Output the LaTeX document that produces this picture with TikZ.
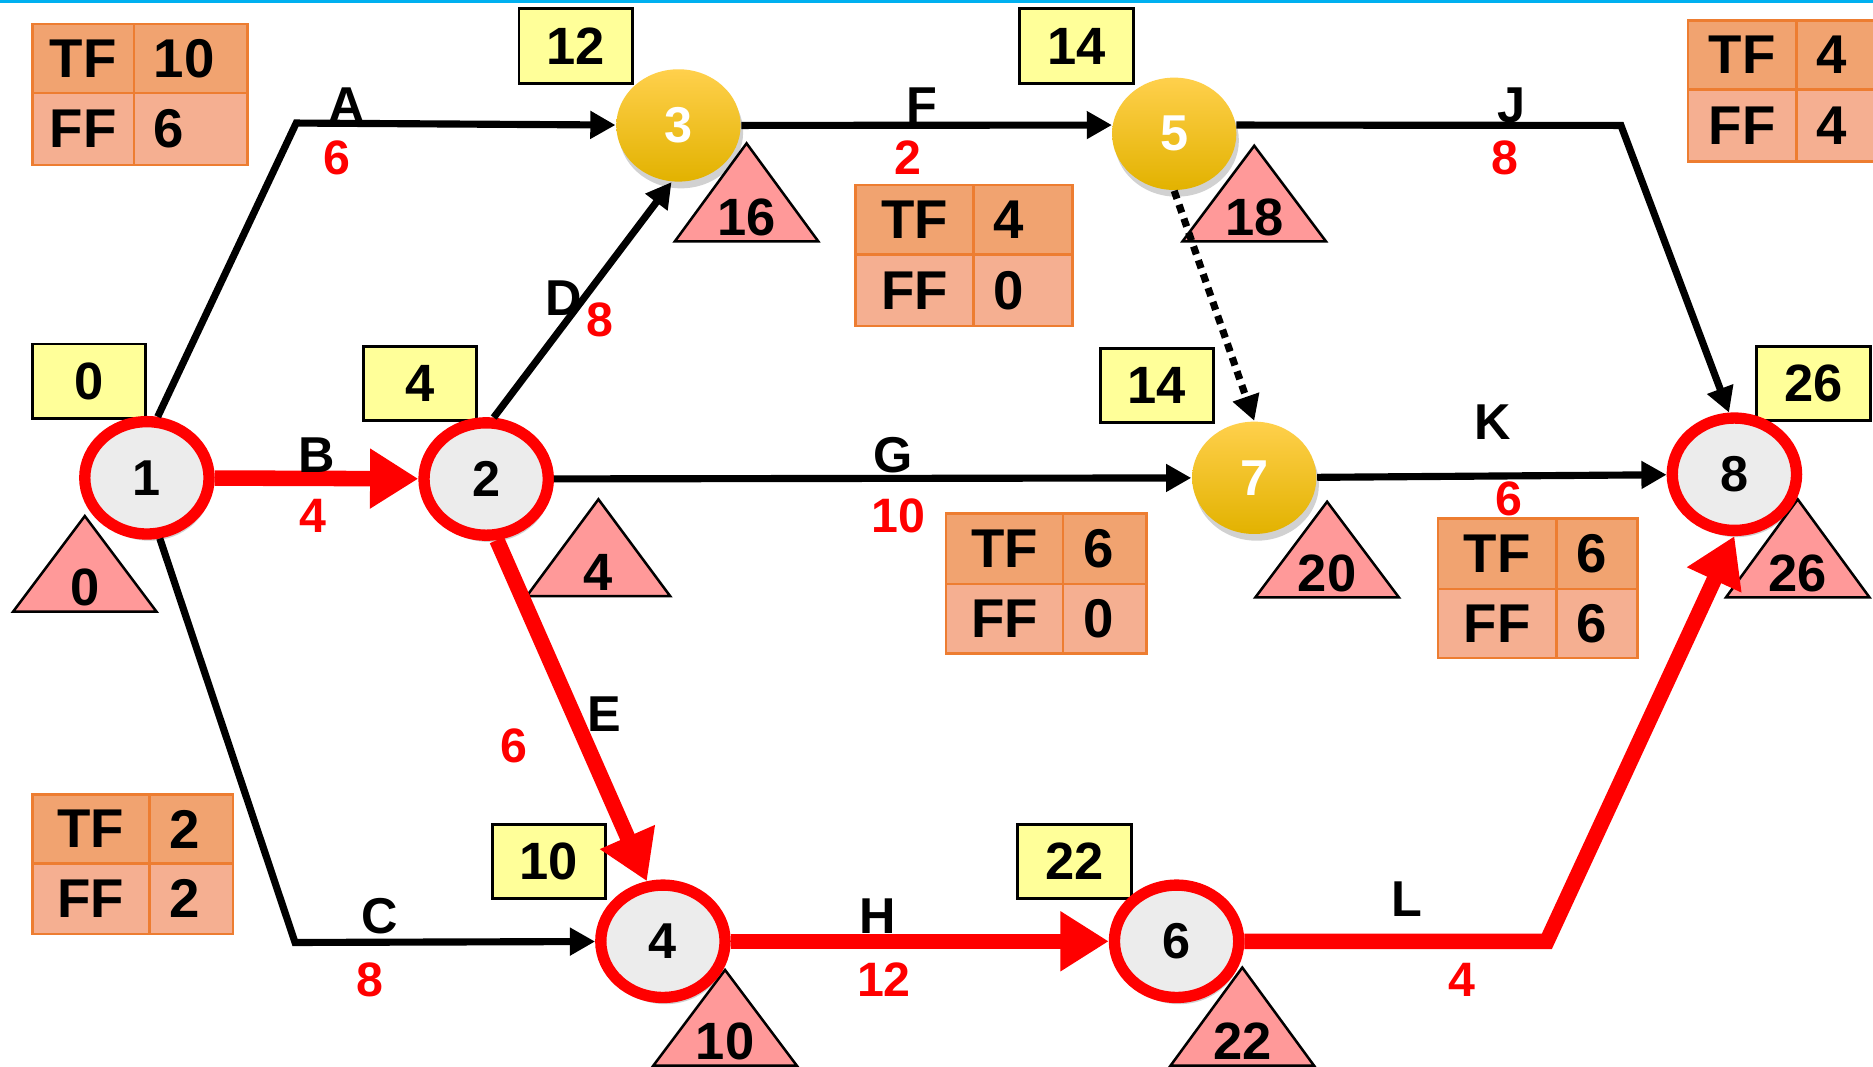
\documentclass[tikz,border=0pt]{standalone}
\usepackage{fontspec}
\setmainfont{Liberation Sans}
\usetikzlibrary{arrows.meta,shapes.geometric,shadows}

\definecolor{critred}{HTML}{FF0000}
\definecolor{esyellow}{HTML}{FFFF99}
\definecolor{lfpink}{HTML}{FF9999}
\definecolor{slacktop}{HTML}{F1A370}
\definecolor{slackbot}{HTML}{F5AF91}
\definecolor{slackline}{HTML}{ED7D31}
\definecolor{goldA}{HTML}{FFD04C}
\definecolor{goldB}{HTML}{FFC000}
\definecolor{goldC}{HTML}{E2B200}
\definecolor{ringfill}{HTML}{ECECEC}
\definecolor{topline}{HTML}{00B0F0}

% float-slack table: name, x0, y0, x-split, y-split, x1, y1, TF value, FF value
\newcommand\slacktab[9]{%
  \fill[slacktop] (#2,#3) rectangle (#6,#5);
  \fill[slackbot] (#2,#5) rectangle (#6,#7);
  \draw[slackline, line width=0.6pt] (#2,#3) rectangle (#6,#7) (#4,#3) -- (#4,#7) (#2,#5) -- (#6,#5);
  \node[tabtxt] (#1tfk) at ({(#2+#4)/2},{(#3+#5)/2}) {TF};
  \node[tabtxt] (#1ffk) at ({(#2+#4)/2},{(#5+#7)/2}) {FF};
  \node[tabtxt, anchor=west] (#1tfv) at (#4+16,{(#3+#5)/2}) {#8};
  \node[tabtxt, anchor=west] (#1ffv) at (#4+16,{(#5+#7)/2}) {#9};}

% latest-finish triangle: name, apex x, apex y, base y, value
\newcommand\lftri[5]{%
  \filldraw[lftri] (#2-60,#4) -- (#2,#3) -- (#2+60,#4) -- cycle;
  \node[numtxt] (#1) at (#2,#4-20) {#5};}

\begin{document}
\begin{tikzpicture}[x=0.01cm, y=-0.01cm,
  every node/.style={inner sep=0pt},
  evt/.style={ellipse, minimum width=1.04cm, minimum height=0.94cm,
    font=\fontsize{12}{14}\selectfont\bfseries,
    drop shadow={shadow xshift=0.6pt, shadow yshift=-1.6pt, fill=black, opacity=0.18}},
  critevt/.style={evt, draw=critred, line width=2.7pt, fill=ringfill},
  goldevt/.style={evt, top color=goldA, middle color=goldB, bottom color=goldC, text=white},
  numtxt/.style={font=\fontsize{12.5}{14}\selectfont\bfseries},
  tabtxt/.style={font=\fontsize{13}{15}\selectfont\bfseries},
  es/.style={numtxt, draw=black, line width=0.7pt, fill=esyellow,
    minimum width=0.95cm, minimum height=0.62cm},
  lftri/.style={draw=black, line width=0.6pt, fill=lfpink},
  act/.style={font=\fontsize{12}{14}\selectfont\bfseries},
  dur/.style={text=critred, font=\fontsize{11.5}{13}\selectfont\bfseries},
  arr/.style={line width=1.7pt, -{Triangle[length=6pt,width=6.3pt]}},
  critarr/.style={draw=critred, line width=3.7pt, -{Triangle[length=11.5pt,width=13.5pt]}},
  dummy/.style={line width=1.7pt, dash pattern=on 2pt off 1.5pt,
    -{Triangle[length=6pt,width=6.3pt]}}]

\useasboundingbox (0,0) rectangle (1568,893);
\clip (0,0) rectangle (1568,893);
\fill[white] (0,0) rectangle (1568,893);
\fill[topline] (0,0) rectangle (1568,2.5);

% slack tables
\slacktab{sa}{27}{20}{112}{78}{207}{138}{10}{6}
\slacktab{sf}{716}{155}{815}{213}{898}{273}{4}{0}
\slacktab{sj}{1413}{17}{1504}{75}{1580}{135}{4}{4}
\slacktab{sg}{792}{430}{890}{489}{960}{547}{6}{0}
\slacktab{sk}{1204}{434}{1303}{493}{1371}{551}{6}{6}
\slacktab{sc}{27}{665}{125}{723}{195}{782}{2}{2}

% latest finish times
\lftri{lf3}{625}{120}{202}{16}
\lftri{lf5}{1050}{122}{202}{18}
\lftri{lf1}{71}{432}{512}{0}
\lftri{lf2}{501}{418}{499}{4}
\lftri{lf7}{1111}{420}{500}{20}
\lftri{lf8}{1505}{418}{500}{26}
\lftri{lf4}{607}{812}{892}{10}
\lftri{lf6}{1040}{810}{892}{22}

% earliest start times
\node[es] (es3) at (482,38.5) {12};
\node[es] (es5) at (901,38.5) {14};
\node[es] (es1) at (74.5,319) {0};
\node[es] (es2) at (351.5,321) {4};
\node[es] (es7) at (968.5,323) {14};
\node[es] (es8) at (1518,321) {26};
\node[es] (es4) at (459.5,721) {10};
\node[es] (es6) at (899.5,721) {22};

% events
\node[critevt] (n1) at (123,400) {1};
\node[critevt] (n2) at (407,401) {2};
\node[goldevt] (n3) at (568,105) {3};
\node[critevt] (n4) at (555,788) {4};
\node[goldevt] (n5) at (983,112) {5};
\node[critevt] (n6) at (985,788) {6};
\node[goldevt] (n7) at (1050,400) {7};
\node[critevt] (n8) at (1452,397) {8};

% bends of the routed activities
\coordinate (ac) at (248,103);
\coordinate (cc) at (247,789);
\coordinate (jc) at (1357,105);
\coordinate (lc) at (1295,788);

% activities
\draw[arr] (n1.80) -- (ac) -- (n3);
\draw[arr] (n1.282) -- (cc) -- (n4);
\draw[arr] (n2.83) -- (n3.263);
\draw[arr] (n3.east) -- (n5.172);
\draw[arr] (n2) -- (n7);
\draw[arr] (n5.8) -- (jc) -- (n8.95);
\draw[arr] (n7) -- (n8);
\draw[dummy] (n5.south) -- (n7.north);
\draw[critarr] (n1) -- (n2);
\draw[critarr] (n2.280) -- (n4.105);
\draw[critarr] (n4) -- (n6);
\draw[critarr] (n6) -- (lc) -- (n8.south);

% activity names
\node[act] (la) at (290,88) {A};
\node[act] (lb) at (265,381) {B};
\node[act] (lcn) at (318,767) {C};
\node[act] (ld) at (472,250) {D};
\node[act] (le) at (506,598) {E};
\node[act] (lfn) at (772,88) {F};
\node[act] (lg) at (748,381) {G};
\node[act] (lh) at (735,767) {H};
\node[act] (lj) at (1265,88) {J};
\node[act] (lk) at (1250,353) {K};
\node[act] (ll) at (1178,753) {L};

% durations
\node[dur] (da) at (282,132) {6};
\node[dur] (db) at (262,432) {4};
\node[dur] (dc) at (310,820) {8};
\node[dur] (dd) at (502,268) {8};
\node[dur] (de) at (430,624) {6};
\node[dur] (df) at (760,132) {2};
\node[dur] (dg) at (752,432) {10};
\node[dur] (dh) at (740,820) {12};
\node[dur] (dj) at (1260,132) {8};
\node[dur] (dk) at (1263,418) {6};
\node[dur] (dl) at (1224,820) {4};
\end{tikzpicture}
\end{document}
